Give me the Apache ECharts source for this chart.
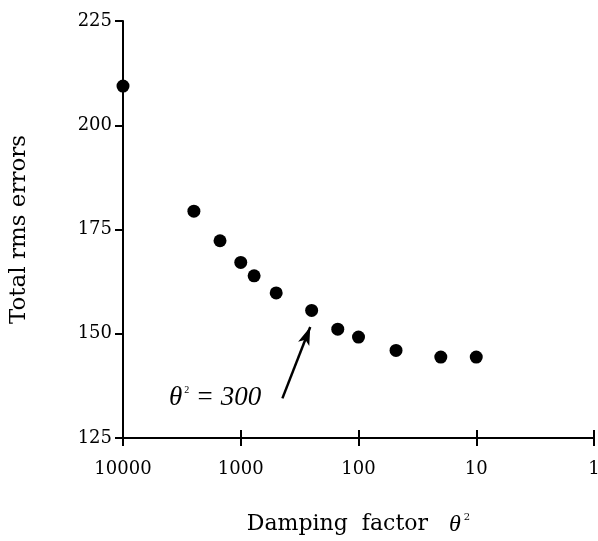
<!DOCTYPE html>
<html>
<head>
<meta charset="utf-8">
<script src="https://cdn.jsdelivr.net/npm/echarts@6/dist/echarts.min.js"></script>
<style>
    html, body { margin: 0; padding: 0; background: #fff; }
    #main { width: 598px; height: 541px; }
</style>
</head>
<body>
<div id="main"></div>
<script>
    // damping factor (theta^2) and total rms errors
    var damping = [10000, 2500, 1500, 1000, 770, 500, 250, 150, 100, 48, 20, 10];
    var rmsErrors = [209.4, 179.4, 172.3, 167.1, 163.9, 159.8, 155.6, 151.1, 149.2, 146.0, 144.4, 144.4];
    var yTicks = [125, 150, 175, 200, 225];
    // annotation arrow: tail -> head, and label anchor (data coords)
    var arrowFrom = [443, 134.5];
    var arrowTo = [257, 151.6];
    var noteAt = [1650, 134.6];

    var points = [];
    for (var i = 0; i < damping.length; i++) {
        points.push([damping[i], rmsErrors[i]]);
    }

    var serif = 'DejaVu Serif';
    var dom = document.getElementById('main');
    var myChart = echarts.init(dom, null, {renderer: 'canvas'});
    var xBase = {
        type: 'log',
        logBase: 10,
        min: 1,
        max: 10000,
        inverse: true,
        position: 'bottom',
        axisLine: {show: true, lineStyle: {color: '#000', width: 2}},
        splitLine: {show: false},
        minorTick: {show: false}
    };
    var option = {
        animation: false,
        backgroundColor: '#fff',
        grid: {left: 123, right: 4, top: 21, bottom: 103, outerBoundsMode: 'none', containLabel: false},
        xAxis: [
            Object.assign({}, xBase, {
                name: 'Damping  factor   {t|θ}{s|2}',
                nameLocation: 'middle',
                nameGap: 74,
                nameTextStyle: {
                    fontFamily: serif, fontSize: 22, color: '#000',
                    rich: {
                        t: {fontFamily: 'Liberation Serif', fontStyle: 'italic', fontSize: 24, color: '#000'},
                        s: {fontFamily: serif, fontSize: 10, color: '#000', verticalAlign: 'bottom', padding: [0, 0, 15, 3]}
                    }
                },
                axisTick: {show: true, inside: false, length: 8, lineStyle: {color: '#000', width: 2}},
                axisLabel: {
                    fontFamily: serif, fontSize: 18, color: '#000', margin: 22,
                    showMinLabel: true, showMaxLabel: true,
                    formatter: function (v) { return String(Math.round(v)); }
                }
            }),
            // second copy just to make the x ticks cross the axis line
            Object.assign({}, xBase, {
                axisTick: {show: true, inside: true, length: 8, lineStyle: {color: '#000', width: 2}},
                axisLabel: {show: false}
            })
        ],
        yAxis: {
            type: 'value',
            min: yTicks[0],
            max: yTicks[yTicks.length - 1],
            interval: 25,
            name: 'Total rms errors',
            nameLocation: 'middle',
            nameGap: 92,
            nameTextStyle: {fontFamily: serif, fontSize: 23, color: '#000'},
            axisLine: {show: true, lineStyle: {color: '#000', width: 2}},
            axisTick: {show: true, length: 8, lineStyle: {color: '#000', width: 2}},
            axisLabel: {fontFamily: serif, fontSize: 18, color: '#000', margin: 11},
            splitLine: {show: false}
        },
        series: [
            {
                type: 'scatter',
                data: points,
                symbol: 'circle',
                symbolSize: 13,
                itemStyle: {color: '#000', opacity: 1},
                markLine: {
                    silent: true,
                    symbol: ['none', 'arrow'],
                    symbolSize: [9, 18],
                    label: {show: false},
                    lineStyle: {color: '#000', width: 2.5, type: 'solid', opacity: 1},
                    data: [[{coord: arrowFrom}, {coord: arrowTo}]]
                },
                markPoint: {
                    silent: true,
                    symbol: 'circle',
                    symbolSize: 0,
                    label: {
                        show: true,
                        position: 'inside',
                        formatter: '{t|θ}{s|2}  {e|= 300}',
                        rich: {
                            t: {fontFamily: 'Liberation Serif', fontStyle: 'italic', fontSize: 27, color: '#000'},
                            s: {fontFamily: 'Liberation Serif', fontSize: 10, color: '#000', verticalAlign: 'bottom', padding: [0, 0, 16, 2]},
                            e: {fontFamily: 'Liberation Serif', fontStyle: 'italic', fontSize: 27, color: '#000'}
                        }
                    },
                    data: [{coord: noteAt}]
                }
            }
        ]
    };
    if (option && typeof option === 'object') {
        myChart.setOption(option, true);
    }
</script>
</body>
</html>
